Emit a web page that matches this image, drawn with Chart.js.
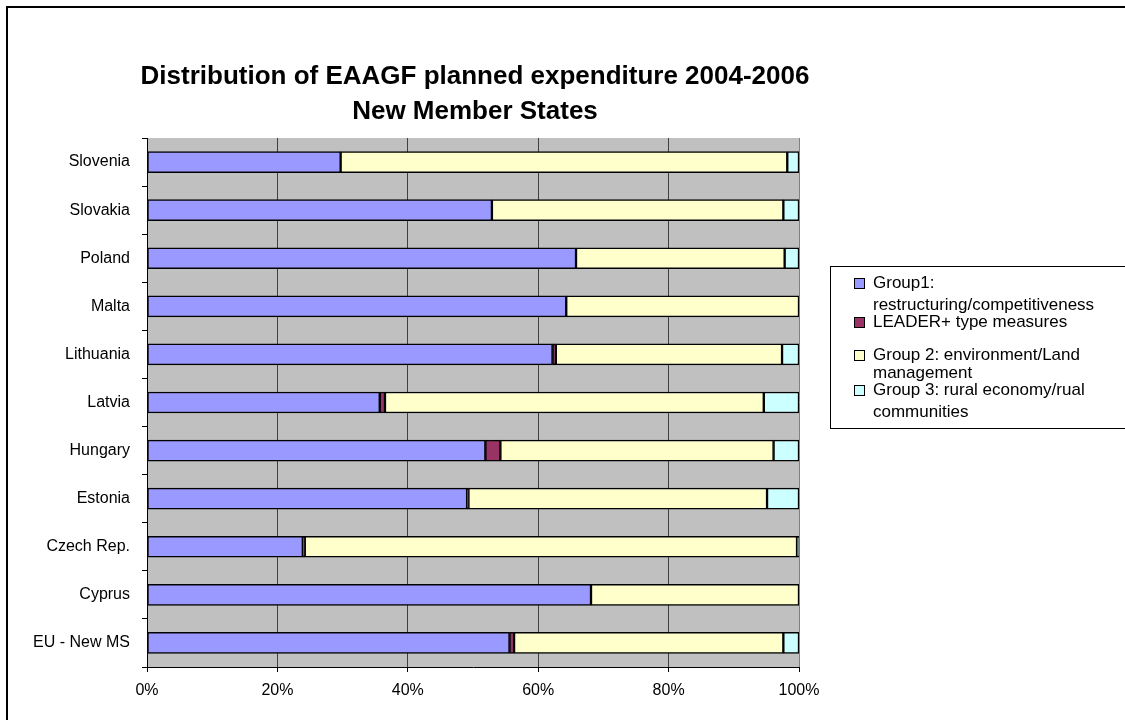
<!DOCTYPE html>
<html>
<head>
<meta charset="utf-8">
<title>Distribution of EAAGF planned expenditure 2004-2006</title>
<script src="https://cdn.jsdelivr.net/npm/chart.js@4/dist/chart.umd.min.js"></script>
<style>
  html, body { margin: 0; padding: 0; background: #fff; }
  #wrap { width: 1125px; height: 720px; position: relative; }
</style>
</head>
<body>
<div id="wrap"><canvas id="expChart" width="1125" height="720"></canvas></div>
<script>
const countries = ['Slovenia', 'Slovakia', 'Poland', 'Malta', 'Lithuania', 'Latvia',
    'Hungary', 'Estonia', 'Czech Rep.', 'Cyprus', 'EU - New MS'];

// shares in percent
const group1 = [29.7, 52.9, 65.8, 64.3, 62.2, 35.7, 51.9, 49.1, 23.9, 68.1, 55.6];
const leader = [0, 0, 0, 0, 0.5, 0.8, 2.3, 0.2, 0.3, 0, 0.7];
const group2 = [68.5, 44.7, 32.0, 35.7, 34.7, 58.1, 41.9, 45.8, 75.5, 31.9, 41.3];
const group3 = [1.8, 2.4, 2.2, 0, 2.6, 5.4, 3.9, 4.9, 0.3, 0, 2.4];

const seriesNames = [
    ['Group1:', 'restructuring/competitiveness'],
    ['LEADER+ type measures'],
    ['Group 2: environment/Land', 'management'],
    ['Group 3: rural economy/rual', 'communities']
];
const seriesColors = ['#9999FF', '#993366', '#FFFFCC', '#CCFFFF'];
const xTicks = [0, 20, 40, 60, 80, 100];
const titleLines = ['Distribution of EAAGF planned expenditure 2004-2006', 'New Member States'];

const FONT = "'Liberation Sans', Arial, sans-serif";

const frame = {
    id: 'frame',
    beforeDraw(chart) {
        const ctx = chart.ctx;
        const a = chart.chartArea;
        ctx.save();
        ctx.fillStyle = '#fff';
        ctx.fillRect(0, 0, chart.width, chart.height);
        ctx.fillStyle = '#C0C0C0';
        ctx.fillRect(a.left, a.top, a.right - a.left, a.bottom - a.top);
        ctx.restore();
    },
    afterDraw(chart) {
        const ctx = chart.ctx;
        ctx.save();
        // outer border
        ctx.strokeStyle = '#000';
        ctx.lineWidth = 2;
        ctx.strokeRect(7, 7, 1130, 730);

        // title
        ctx.fillStyle = '#000';
        ctx.font = 'bold 26px ' + FONT;
        ctx.textAlign = 'center';
        ctx.textBaseline = 'middle';
        ctx.fillText(titleLines[0], 475, 77);
        ctx.fillText(titleLines[1], 475, 112);

        // legend
        ctx.lineWidth = 1;
        ctx.strokeRect(830.5, 266.5, 400, 162);
        const rows = [[283, 305], [322], [355, 373], [390, 412]];
        ctx.font = '17px ' + FONT;
        ctx.textAlign = 'left';
        chart.data.datasets.forEach((ds, i) => {
            const ys = rows[i];
            ctx.fillStyle = ds.backgroundColor;
            ctx.fillRect(854, ys[0] - 5, 11, 11);
            ctx.strokeStyle = '#000';
            ctx.strokeRect(854.5, ys[0] - 4.5, 10, 10);
            ctx.fillStyle = '#000';
            seriesNames[i].forEach((line, j) => ctx.fillText(line, 873, ys[j]));
        });
        ctx.restore();
    }
};

const datasets = [group1, leader, group2, group3].map((vals, i) => ({
    label: seriesNames[i].join(' '),
    data: vals,
    backgroundColor: seriesColors[i],
    borderColor: '#000',
    borderWidth: 1.5,
    borderSkipped: false,
    barThickness: 21
}));

new Chart(document.getElementById('expChart').getContext('2d'), {
    type: 'bar',
    data: { labels: countries, datasets: datasets },
    options: {
        indexAxis: 'y',
        responsive: false,
        animation: false,
        layout: { padding: { left: 0, top: 138, right: 326, bottom: 0 } },
        plugins: {
            legend: { display: false },
            title: { display: false },
            tooltip: { enabled: false }
        },
        scales: {
            x: {
                stacked: true,
                min: 0,
                max: 100,
                afterFit(scale) { scale.height = 53; },
                afterBuildTicks(scale) { scale.ticks = xTicks.map(v => ({ value: v })); },
                border: { display: true, color: '#000', width: 1 },
                grid: {
                    color: ctx => ctx.tick && ctx.tick.value === 100 ? '#808080' : '#404040',
                    tickColor: '#000',
                    tickLength: 5
                },
                ticks: {
                    color: '#000',
                    font: { family: FONT, size: 16 },
                    padding: 9,
                    callback: v => v + '%'
                }
            },
            y: {
                stacked: true,
                afterFit(scale) { scale.width = 147; },
                border: { display: true, color: '#000', width: 1 },
                grid: {
                    offset: true,
                    drawOnChartArea: false,
                    tickColor: '#000',
                    tickLength: 5
                },
                ticks: {
                    color: '#000',
                    font: { family: FONT, size: 16 },
                    padding: 12
                }
            }
        }
    },
    plugins: [frame]
});
</script>
</body>
</html>
